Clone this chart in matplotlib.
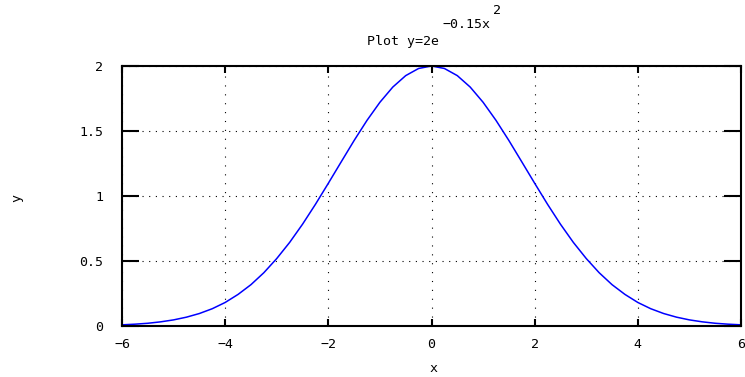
import numpy as np
import matplotlib
matplotlib.use("Agg")
import matplotlib.pyplot as plt

# values
x_vals = [-6.0, -5.75, -5.5, -5.25, -5.0, -4.75, -4.5, -4.25, -4.0, -3.75, -3.5, -3.25,
          -3.0, -2.75, -2.5, -2.25, -2.0, -1.75, -1.5, -1.25, -1.0, -0.75, -0.5, -0.25,
          0.0, 0.25, 0.5, 0.75, 1.0, 1.25, 1.5, 1.75, 2.0, 2.25, 2.5, 2.75,
          3.0, 3.25, 3.5, 3.75, 4.0, 4.25, 4.5, 4.75, 5.0, 5.25, 5.5, 5.75, 6.0]
y_vals = [0.009, 0.014, 0.021, 0.032, 0.047, 0.068, 0.096, 0.133, 0.181, 0.243, 0.318, 0.410,
          0.519, 0.643, 0.783, 0.936, 1.098, 1.263, 1.427, 1.582, 1.721, 1.838, 1.926, 1.981,
          2.0, 1.981, 1.926, 1.838, 1.721, 1.582, 1.427, 1.263, 1.098, 0.936, 0.783, 0.643,
          0.519, 0.410, 0.318, 0.243, 0.181, 0.133, 0.096, 0.068, 0.047, 0.032, 0.021, 0.014, 0.009]
x_ticks = [-6, -4, -2, 0, 2, 4, 6]
x_tick_labels = ["\u22126", "\u22124", "\u22122", "0", "2", "4", "6"]
y_ticks = [0, 0.5, 1, 1.5, 2]
y_tick_labels = ["0", "0.5", "1", "1.5", "2"]

plt.rcParams['font.family'] = ['DejaVu Sans Mono']
fs = 9.5

fig = plt.figure(figsize=(7.45, 3.77), dpi=100)
ax = fig.add_axes([122/745, 51/377, 619/745, 260/377])

ax.plot(x_vals, y_vals, color='#0000ff', lw=1.1)
ax.set_xlim(-6, 6)
ax.set_ylim(0, 2)

ax.set_xticks(x_ticks)
ax.set_xticklabels(x_tick_labels, fontsize=fs)
ax.set_yticks(y_ticks)
ax.set_yticklabels(y_tick_labels, fontsize=fs)

ax.tick_params(axis='x', direction='in', length=5, width=1.5, top=True, pad=9)
ax.tick_params(axis='y', direction='in', length=12, width=1.5, right=True, pad=13.5)

# dotted grid, dots a bit denser on the horizontal lines
ax.xaxis.grid(True, color='black', lw=0.8, linestyle=(0, (1, 7)))
ax.yaxis.grid(True, color='black', lw=0.8, linestyle=(0, (1, 5)))
for s in ax.spines.values():
    s.set_linewidth(1.5)

# title with nested superscripts like gnuplot's enhanced text
fig.text(403/745, 1 - 41/377, "Plot y=2e", fontsize=fs, ha='center', va='center')
fig.text(466/745, 1 - 25/377, "\u22120.15x", fontsize=fs, ha='center', va='center')
fig.text(497/745, 1 - 11/377, "2", fontsize=fs, ha='center', va='center')

fig.text(433/745, 1 - 368/377, "x", fontsize=fs, ha='center', va='center')
fig.text(17/745, 1 - 198/377, "y", fontsize=fs, ha='center', va='center', rotation=90)

fig.savefig("out.png", dpi=100)
